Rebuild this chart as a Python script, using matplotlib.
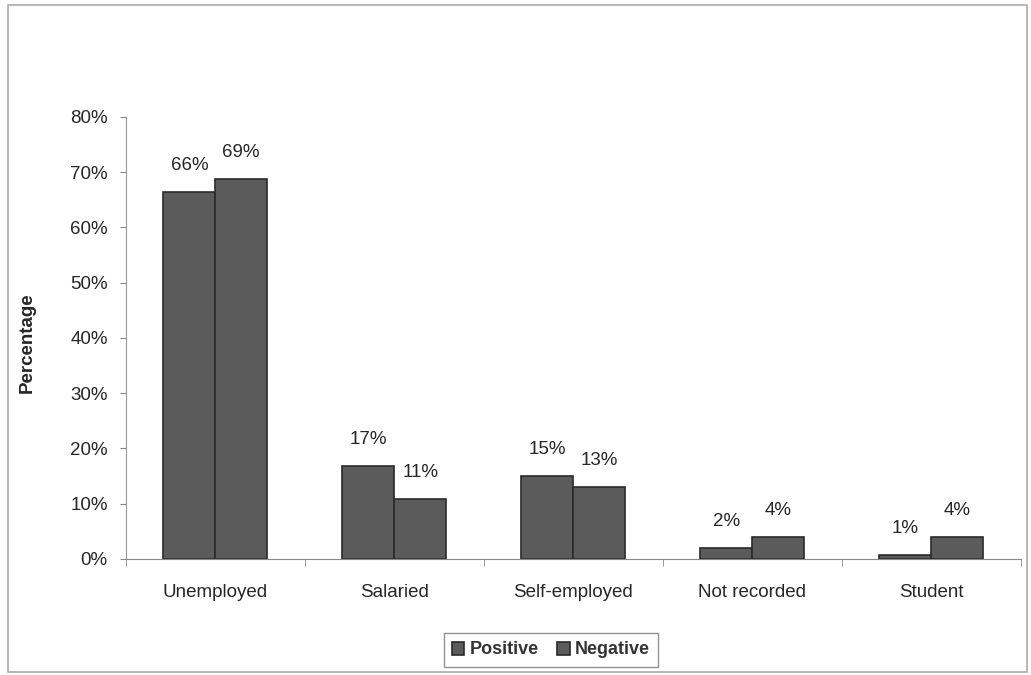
import numpy as np
import matplotlib.pyplot as plt
from matplotlib.patches import Rectangle
from matplotlib.ticker import PercentFormatter

plt.rcParams['font.family'] = ['Liberation Sans', 'DejaVu Sans']

categories = ['Unemployed', 'Salaried', 'Self-employed', 'Not recorded', 'Student']
positive = [66.3, 16.8, 15.0, 2.0, 0.7]
negative = [68.8, 10.8, 13.0, 4.0, 4.0]
positive_labels = ['66%', '17%', '15%', '2%', '1%']
negative_labels = ['69%', '11%', '13%', '4%', '4%']

BAR_COLOR = '#5b5b5b'
EDGE_COLOR = '#2a2a2a'
TEXT_COLOR = '#262626'
FS = 13.5

fig = plt.figure(figsize=(10.31, 6.75), dpi=100)
ax = fig.add_axes([0.122, 0.172, 0.868, 0.655])

x = np.arange(len(categories))
w = 0.29
bars_p = ax.bar(x - w / 2, positive, w, color=BAR_COLOR, edgecolor=EDGE_COLOR,
                linewidth=1.2, label='Positive')
bars_n = ax.bar(x + w / 2, negative, w, color=BAR_COLOR, edgecolor=EDGE_COLOR,
                linewidth=1.2, label='Negative')

# value labels above each bar
for bars, labels in [(bars_p, positive_labels), (bars_n, negative_labels)]:
    for b, lab in zip(bars, labels):
        ax.annotate(lab, (b.get_x() + b.get_width() / 2, b.get_height()),
                    xytext=(0, 13), textcoords='offset points',
                    ha='center', va='bottom', fontsize=FS, color=TEXT_COLOR)

ax.set_xlim(-0.5, len(categories) - 0.5)
ax.set_ylim(0, 80)
ax.set_yticks(np.arange(0, 81, 10))
ax.yaxis.set_major_formatter(PercentFormatter(decimals=0))
ax.set_xticks(x)
ax.set_xticklabels(categories)
ax.set_xticks(np.arange(-0.5, len(categories)), minor=True)
ax.tick_params(axis='x', which='major', length=0, pad=18, labelsize=FS, labelcolor=TEXT_COLOR)
ax.tick_params(axis='x', which='minor', length=5, color='#888888')
ax.tick_params(axis='y', length=4, color='#888888', labelsize=FS, labelcolor=TEXT_COLOR, pad=9)

for side in ['top', 'right']:
    ax.spines[side].set_visible(False)
ax.spines['left'].set_color('#999999')
ax.spines['bottom'].set_color('#888888')

fig.text(27 / 1031, 1 - 343 / 675, 'Percentage', rotation=90, ha='center', va='center',
         fontsize=FS, fontweight='bold', color=TEXT_COLOR)

leg = fig.legend(loc='center', bbox_to_anchor=(551 / 1031, 1 - 650 / 675), ncol=2,
                 frameon=True, fancybox=False, prop={'size': 13, 'weight': 'bold'},
                 handlelength=0.7, handleheight=0.7, handletextpad=0.3,
                 columnspacing=1.0, borderpad=0.45)
leg.get_frame().set_edgecolor('#777777')
leg.get_frame().set_linewidth(1.0)
for t in leg.get_texts():
    t.set_color('#333333')

# outer chart border
fig.patches.append(Rectangle((8 / 1031, 3 / 675), 1019 / 1031, 667 / 675,
                             transform=fig.transFigure, fill=False,
                             edgecolor='#aaaaaa', linewidth=1.2))

fig.savefig('out.png', dpi=100)
